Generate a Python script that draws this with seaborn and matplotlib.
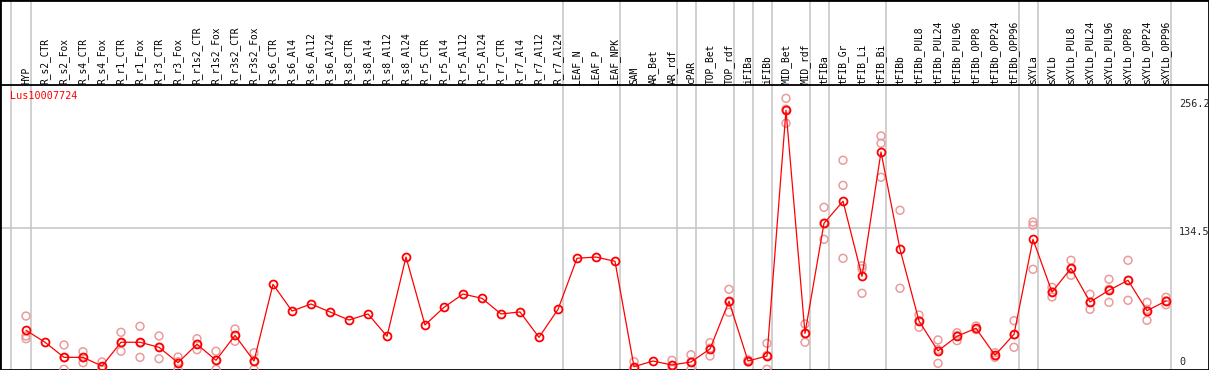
import matplotlib
matplotlib.use("Agg")
import matplotlib.pyplot as plt
import seaborn as sns
import pandas as pd

# ---------------- data ----------------
gene = "Lus10007724"

categories = [
    "HYP", "R_s2_CTR", "R_s2_Fox", "R_s4_CTR", "R_s4_Fox", "R_r1_CTR", "R_r1_Fox",
    "R_r3_CTR", "R_r3_Fox", "R_r1s2_CTR", "R_r1s2_Fox", "R_r3s2_CTR", "R_r3s2_Fox",
    "R_s6_CTR", "R_s6_Al4", "R_s6_Al12", "R_s6_Al24", "R_s8_CTR", "R_s8_Al4",
    "R_s8_Al12", "R_s8_Al24", "R_r5_CTR", "R_r5_Al4", "R_r5_Al12", "R_r5_Al24",
    "R_r7_CTR", "R_r7_Al4", "R_r7_Al12", "R_r7_Al24", "LEAF_N", "LEAF_P", "LEAF_NPK",
    "SAM", "AR_Bet", "AR_rdf", "cPAR", "TOP_Bet", "TOP_rdf", "iFIBa", "iFIBb",
    "MID_Bet", "MID_rdf", "tFIBa", "tFIB_Gr", "tFIB_Li", "tFIB_Bi", "tFIBb",
    "tFIBb_PUL8", "tFIBb_PUL24", "tFIBb_PUL96", "tFIBb_OPP8", "tFIBb_OPP24",
    "tFIBb_OPP96", "sXYLa", "sXYLb", "sXYLb_PUL8", "sXYLb_PUL24", "sXYLb_PUL96",
    "sXYLb_OPP8", "sXYLb_OPP24", "sXYLb_OPP96",
]

means = [
    37.2, 25.8, 11.4, 11.4, 3.1, 25.8, 25.8, 21.0, 6.3, 23.9, 8.6, 32.4, 7.9,
    81.1, 55.6, 62.3, 54.7, 47.0, 52.8, 31.5, 107.1, 42.3, 59.1, 71.8, 67.7,
    52.8, 54.7, 30.5, 57.2, 105.9, 107.1, 103.0,
    2.5, 7.9, 4.1, 7.0, 19.4, 64.9, 7.9, 12.7, 247.1, 34.3, 139.3, 160.3, 88.7,
    207.3, 114.5, 46.1, 17.5, 31.5, 39.1, 13.4, 33.4, 124.0, 73.7, 96.4, 64.2,
    75.4, 84.9, 55.9, 65.2,
]

replicates = [
    [50.8, 31.8, 29.2], [], [23.2, 11.0, 0.0], [16.8, 11.1, 6.3], [7.0, 2.3, 0.0],
    [35.3, 24.9, 17.2], [41.0, 25.0, 11.4], [31.8, 21.1, 10.1], [11.7, 7.2, 0.0],
    [29.2, 23.8, 18.7], [17.2, 8.6, 0.0], [38.4, 32.1, 26.7], [15.8, 7.9, 0.0],
    [], [], [], [], [], [], [], [], [], [], [], [], [], [], [], [], [], [], [],
    [7.3, 0.2, 0.0], [], [8.6, 3.7, 0.0], [13.9, 7.1, 0.0], [25.4, 20.1, 12.7],
    [76.3, 64.0, 54.4], [9.0, 7.9, 6.8], [24.8, 13.3, 0.0],
    [258.5, 248.1, 234.7], [43.2, 33.9, 25.8], [154.5, 139.4, 124.0],
    [199.4, 175.5, 105.9], [98.8, 96.0, 72.5], [222.6, 215.6, 183.2],
    [151.7, 77.3], [51.8, 46.4, 40.1], [28.0, 18.8, 5.7], [34.9, 32.3, 27.3],
    [41.3, 38.2, 37.8], [15.8, 13.0, 11.4], [46.4, 32.8, 21.0],
    [140.5, 137.4, 95.4], [78.2, 73.9, 69.0], [104.0, 95.5, 89.7],
    [71.6, 63.8, 57.2], [85.9, 76.4, 63.9], [104.0, 84.9, 65.8],
    [63.9, 57.1, 46.7], [68.7, 65.3, 61.6],
]

tick_values = [0, 134.5, 256.2]
tick_labels = ["0", "134.5", "256.2"]
separators_after = [-1, 0, 28, 31, 34, 35, 37, 38, 39, 41, 42, 45, 52, 53, 60]

# ---------------- frames ----------------
positions = list(range(len(categories)))
mean_df = pd.DataFrame({"pos": positions, "value": means, "sample": categories})
rep_rows = [(i, v) for i, reps in enumerate(replicates) for v in reps]
rep_df = pd.DataFrame(rep_rows, columns=["pos", "value"])

# ---------------- style ----------------
sns.set_style("white")
plt.rcParams["font.family"] = ["DejaVu Sans Mono"]

fig = plt.figure(figsize=(12.09, 3.70), dpi=100)
ax = fig.add_axes([0, 0, 1, 1])

# pixel mapping: x_px = 26 + 19*i ; y_px = 369.3 - v/0.954
ax.set_xlim(-26 / 19, 1183 / 19)
ax.set_ylim(-0.67, 352.3)

for s in ax.spines.values():
    s.set_visible(True)
    s.set_color("black")
    s.set_linewidth(2)
ax.set_xticks([])
ax.set_yticks([])

grey = "#c4c4c4"
for s in separators_after:
    x = s + 0.25 if s >= 0 else s + 0.2
    ax.axvline(x, color=grey, linewidth=1.1, zorder=1)
ax.hlines(134.5, -26 / 19, 60.25, color=grey, linewidth=1.1, zorder=1)

# separator between label zone and plot zone
ax.axhline(271.2, color="black", linewidth=1.3, zorder=2)

# replicates
sns.scatterplot(data=rep_df, x="pos", y="value", ax=ax, marker="o", s=32,
                color="#eb9b9b", legend=False, zorder=3)
coll = ax.collections[-1]
coll.set_facecolor("none")
coll.set_edgecolor("#eb9b9b")
coll.set_linewidth(1.1)

# means
sns.lineplot(data=mean_df, x="pos", y="value", ax=ax, color="#ff0000",
             linewidth=0.9, marker="o", markersize=5.7, markerfacecolor="none",
             markeredgecolor="#ff0000", markeredgewidth=1.3, zorder=4,
             legend=False)

ax.set_xlabel("")
ax.set_ylabel("")

# category labels
for i, c in enumerate(categories):
    ax.text(i, 272.4, c, rotation=90, ha="center", va="bottom",
            fontsize=6.9, color="black")

# gene name
ax.text(-0.85, 265.5, gene, ha="left", va="top", fontsize=7.3, color="#ff0000")

# right-hand scale labels
for v, lab in zip(tick_values, tick_labels):
    if v == 0:
        ax.text(60.68, 4.0, lab, ha="left", va="baseline", fontsize=7.3)
    else:
        ax.text(60.68, v + 1.5, lab, ha="left", va="top", fontsize=7.3)

fig.savefig("out.png", dpi=100)
